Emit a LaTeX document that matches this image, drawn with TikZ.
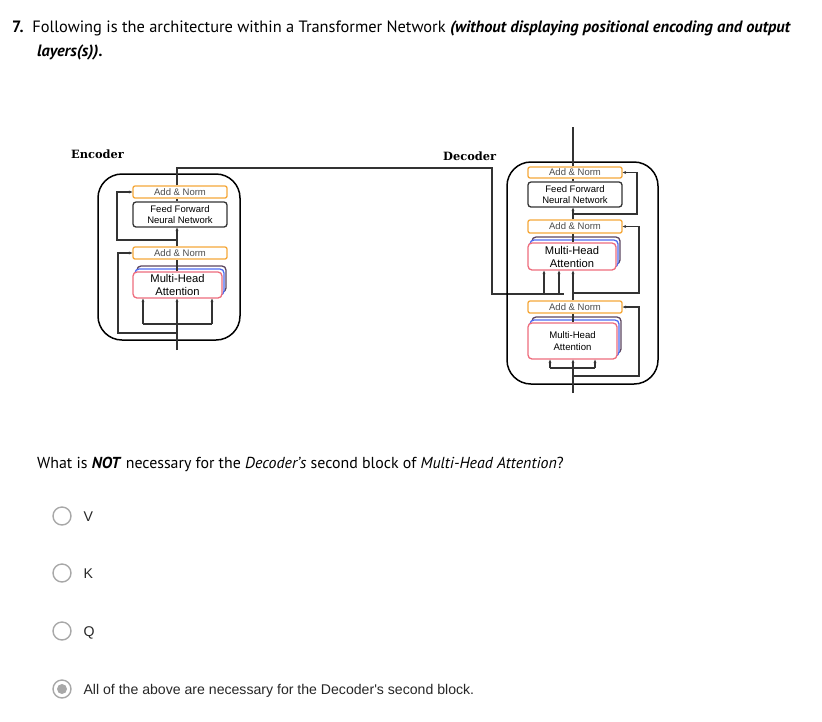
\documentclass[tikz,border=0pt]{standalone}
\usepackage{fontspec}
\setmainfont{PT Sans}
\newfontfamily\arialfont{Liberation Sans}
\newfontfamily\labelfont{DejaVu Serif}
\usetikzlibrary{arrows.meta}

\definecolor{normorange}{HTML}{F5A83A}
\definecolor{mhapink}{HTML}{EE6D7D}
\definecolor{mhablue}{HTML}{4E6CF2}
\definecolor{mhadark}{HTML}{5B4560}
\definecolor{linegray}{HTML}{333333}
\definecolor{radiogray}{HTML}{A8A8A8}

\tikzset{
  addnorm/.style={draw=normorange, line width=1.3pt, rounded corners=2pt, fill=white,
    minimum width=94pt, minimum height=12pt, inner sep=0pt,
    font=\arialfont\fontsize{9.5}{10}\selectfont, text=black!70},
  ffnet/.style={draw=linegray, line width=1.3pt, rounded corners=3pt, fill=white,
    minimum width=94pt, minimum height=25pt, inner sep=0pt, align=center,
    font=\arialfont\fontsize{9.5}{11}\selectfont},
  mlayer/.style={line width=1.3pt, rounded corners=4pt, fill=white,
    minimum width=89pt, minimum height=27pt, inner sep=0pt},
  mhead/.style={mlayer, draw=mhapink, align=center,
    font=\arialfont\fontsize{11.2}{13}\selectfont},
  outerbox/.style={draw=black, line width=1.5pt, rounded corners=24pt, inner sep=0pt},
  wire/.style={draw=linegray, line width=1.3pt},
  into/.style={wire, -{Stealth[length=3.5pt,width=3pt]}},
  radio/.style={circle, draw=radiogray, line width=1.4pt, minimum size=18pt, inner sep=0pt},
  option/.style={anchor=base west, font=\arialfont\fontsize{14.1}{16}\selectfont, text=black!85},
  partname/.style={anchor=base west, font=\labelfont\bfseries\fontsize{11.4}{13}\selectfont}
}

\begin{document}
\begin{tikzpicture}[x=1pt, y=-1pt]
\useasboundingbox (0,0) rectangle (822,721);

% question text
\node[anchor=base west, inner sep=0pt, font=\fontsize{16.4}{18}\selectfont] (title) at (12,32)
  {\textbf{7.}\ \ Following is the architecture within a Transformer Network \textbf{\textit{(without displaying positional encoding and output}}};
\node[anchor=base west, inner sep=0pt, font=\fontsize{16.4}{18}\selectfont] (title2) at (37,56) {\textbf{\textit{layers(s)).}}};

% encoder
\node[partname, inner sep=0pt] (encname) at (71,158) {Encoder};
\node[outerbox, minimum width=142pt, minimum height=166pt] (eBox) at (169,257) {};
\node[addnorm] (eAN2) at (180,192) {Add \& Norm};
\node[ffnet] (eFF) at (180,214.5) {Feed Forward\\Neural Network};
\node[addnorm] (eAN1) at (180,253) {Add \& Norm};
\node[mlayer, draw=mhadark, minimum height=26pt] (eMHAc) at (181.5,279) {};
\node[mlayer, draw=mhablue, minimum height=26pt] (eMHAb) at (179.5,282) {};
\node[mhead, minimum height=26pt] (eMHA) at (177.5,285) {Multi-Head\\Attention};

\coordinate (eIn) at (177,350);
\coordinate (eQ) at (143,324);
\coordinate (eK) at (212,324);
\coordinate (eSplitA) at (177,333);
\coordinate (eBendA) at (118,333);
\coordinate (eSplitB) at (177,240);
\coordinate (eBendB) at (117,240);
\coordinate (eTop) at (177,168);
\coordinate (eTurn) at (492,168);
\coordinate (eDrop) at (492,294);
\coordinate (eEnd) at (564,294);

\draw[into] (eIn) -- (eIn |- eMHA.south);
\draw[wire] (eQ) -- (eK);
\draw[into] (eQ) -- (eQ |- eMHA.south);
\draw[into] (eK) -- (eK |- eMHA.south);
\draw[into] (eSplitA) -- (eBendA) |- (eAN1.west);
\draw[wire] (eMHA.north -| eIn) -- (eAN1.south -| eIn);
\draw[into] (eAN1.north -| eIn) -- (eFF.south -| eIn);
\draw[into] (eSplitB) -- (eBendB) |- (eAN2.west);
\draw[wire] (eFF.north -| eIn) -- (eAN2.south -| eIn);
\draw[wire] (eAN2.north -| eIn) -- (eTop) -- (eTurn) -- (eDrop) -- (eEnd);

% decoder
\node[partname, inner sep=0pt] (decname) at (443,160) {Decoder};
\node[outerbox, minimum width=151pt, minimum height=222pt] (dBox) at (582.5,273) {};
\node[addnorm, minimum height=11pt] (dAN3) at (575,172.5) {Add \& Norm};
\node[ffnet] (dFF) at (575,194.5) {Feed Forward\\Neural Network};
\node[addnorm, minimum height=13pt] (dAN2) at (575,226.5) {Add \& Norm};
\node[mlayer, draw=mhadark, minimum width=88pt] (dMHA2c) at (576,250.5) {};
\node[mlayer, draw=mhablue, minimum width=88pt] (dMHA2b) at (574,253.5) {};
\node[mhead, minimum width=88pt] (dMHA2) at (572,256.5) {Multi-Head\\Attention};
\node[addnorm] (dAN1) at (575,307) {Add \& Norm};
\node[mlayer, draw=mhadark, minimum height=36pt] (dMHA1c) at (576.5,335) {};
\node[mlayer, draw=mhablue, minimum height=36pt] (dMHA1b) at (574.5,338) {};
\node[mhead, minimum height=36pt, font=\arialfont\fontsize{9.6}{12}\selectfont] (dMHA1) at (572.5,341) {Multi-Head\\Attention};

\coordinate (dIn) at (573,393);
\coordinate (dQ) at (550,368);
\coordinate (dV) at (595,368);
\coordinate (dSplitA) at (573,376);
\coordinate (dBendA) at (639,376);
\coordinate (dSplitB) at (573,293);
\coordinate (dBendB) at (639,293);
\coordinate (dSplitC) at (573,214);
\coordinate (dBendC) at (637,214);
\coordinate (dOut) at (573,127);
\coordinate (dK1) at (544,294);
\coordinate (dK2) at (559,294);

\draw[into] (dIn) -- (dIn |- dMHA1.south);
\draw[wire] (dQ) -- (dV);
\draw[into] (dQ) -- (dQ |- dMHA1.south);
\draw[into] (dV) -- (dV |- dMHA1.south);
\draw[into] (dSplitA) -- (dBendA) |- (dAN1.east);
\draw[wire] (dMHA1.north -| dIn) -- (dAN1.south -| dIn);
\draw[into] (dAN1.north -| dIn) -- (dMHA2.south -| dIn);
\draw[into] (dK1) -- (dK1 |- dMHA2.south);
\draw[into] (dK2) -- (dK2 |- dMHA2.south);
\draw[into] (dSplitB) -- (dBendB) |- (dAN2.east);
\draw[wire] (dMHA2.north -| dIn) -- (dAN2.south -| dIn);
\draw[into] (dAN2.north -| dIn) -- (dFF.south -| dIn);
\draw[into] (dSplitC) -- (dBendC) |- (dAN3.east);
\draw[wire] (dFF.north -| dIn) -- (dAN3.south -| dIn);
\draw[wire] (dAN3.north -| dIn) -- (dOut);

% the question
\node[anchor=base west, inner sep=0pt, font=\fontsize{15.9}{18}\selectfont] (quest) at (37,468)
  {What is \textbf{\textit{NOT}} necessary for the \textit{Decoder’s} second block of \textit{Multi-Head Attention}?};

% answers
\node[radio] (radV) at (62,516) {};
\node[radio] (radK) at (62,573) {};
\node[radio] (radQ) at (62,631) {};
\node[radio] (radAll) at (62,689) {};
\node[circle, fill=radiogray, minimum size=10pt, inner sep=0pt] (dotAll) at (radAll) {};
\node[option] (optV) at (80,521) {V};
\node[option] (optK) at (80,578) {K};
\node[option] (optQ) at (80,636) {Q};
\node[option] (optAll) at (80,694) {All of the above are necessary for the Decoder's second block.};
\end{tikzpicture}
\end{document}
